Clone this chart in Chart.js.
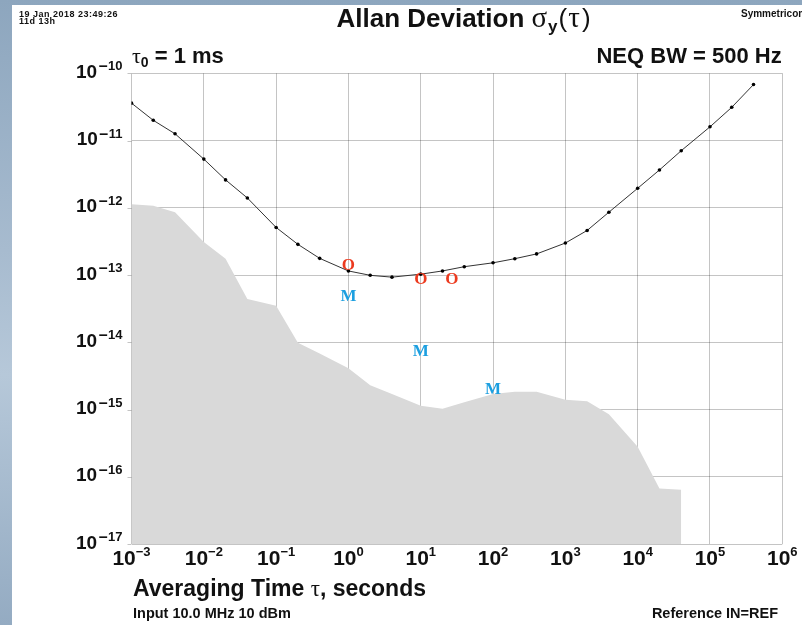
<!DOCTYPE html>
<html>
<head>
<meta charset="utf-8">
<script src="https://cdn.jsdelivr.net/npm/chart.js@4.4.0/dist/chart.umd.min.js"></script>
<style>
  html, body { margin: 0; padding: 0; }
  body {
    width: 802px; height: 625px; overflow: hidden; position: relative;
    background: linear-gradient(180deg, #8da6be 0%, #a7bbcf 40%, #b6c8d9 60%, #94abc2 100%);
  }
  #wrap { position: absolute; left: 12px; top: 5px; width: 790px; height: 620px; background: #fff; }
</style>
</head>
<body>
<div id="wrap"><canvas id="myChart" width="790" height="620"></canvas></div>
<script>
// averaging time (s) and Allan deviation of the measured trace
const tauLine = [1e-3, 2e-3, 4e-3, 1e-2, 2e-2, 4e-2, 1e-1, 2e-1, 4e-1, 1, 2, 4, 10, 20, 40,
  100, 200, 400, 1e3, 2e3, 4e3, 1e4, 2e4, 4e4, 1e5, 2e5, 4e5];
const adevLine = [3.6e-11, 2.0e-11, 1.26e-11, 5.3e-12, 2.6e-12, 1.4e-12, 5.1e-13, 2.86e-13, 1.77e-13,
  1.15e-13, 9.9e-14, 9.3e-14, 1.03e-13, 1.15e-13, 1.33e-13, 1.52e-13, 1.75e-13, 2.06e-13,
  2.99e-13, 4.6e-13, 8.6e-13, 1.95e-12, 3.65e-12, 7.06e-12, 1.6e-11, 3.12e-11, 6.8e-11];

// grey noise floor
const tauFloor = [1e-3, 2e-3, 4e-3, 1e-2, 2e-2, 4e-2, 1e-1, 2e-1, 4e-1, 1, 2, 4, 10, 20, 40,
  100, 200, 400, 1e3, 2e3, 4e3, 1e4, 2e4, 4e4];
const floorVals = [1.13e-12, 1.07e-12, 8.6e-13, 3.1e-13, 1.75e-13, 4.4e-14, 3.5e-14, 9.8e-15, 6.8e-15,
  4.1e-15, 2.3e-15, 1.7e-15, 1.14e-15, 1.03e-15, 1.28e-15, 1.7e-15, 1.84e-15, 1.84e-15,
  1.4e-15, 1.33e-15, 8.5e-16, 2.8e-16, 6.7e-17, 6.4e-17];

// "O" and "M" reference marks
const oTau = [1, 10, 27];
const oVals = [1.36e-13, 8.6e-14, 8.6e-14];
const mTau = [1, 10, 100];
const mVals = [4.8e-14, 7.2e-15, 1.95e-15];

const xTicks = [1e-3, 1e-2, 1e-1, 1, 10, 100, 1e3, 1e4, 1e5, 1e6];
const xTickExp = ["\u22123", "\u22122", "\u22121", "0", "1", "2", "3", "4", "5", "6"];
const yTicks = [1e-17, 1e-16, 1e-15, 1e-14, 1e-13, 1e-12, 1e-11, 1e-10];
const yTickExp = ["17", "16", "15", "14", "13", "12", "11", "10"];

const SANS = "'Liberation Sans', Arial, sans-serif";
const SERIF = "'Liberation Serif', 'Times New Roman', serif";
const GRID = "rgba(0,0,0,0.23)";

function pts(xs, ys) {
  return xs.map((x, i) => ({ x: x, y: ys[i] }));
}

// draw a row of text pieces with their own fonts; ls = letter spacing, gap = space after piece
function drawRuns(ctx, runs, x, y, align) {
  let total = 0;
  runs.forEach((r) => {
    ctx.font = r.f;
    ctx.letterSpacing = "0px";
    r.w = ctx.measureText(r.t).width + (r.ls || 0) * r.t.length + (r.gap || 0);
    total += r.w;
  });
  let cx = align === "center" ? x - total / 2 : align === "right" ? x - total : x;
  ctx.textAlign = "left";
  ctx.textBaseline = "alphabetic";
  runs.forEach((r) => {
    ctx.font = r.f;
    ctx.letterSpacing = (r.ls || 0) + "px";
    ctx.fillText(r.t, cx, y + (r.dy || 0));
    cx += r.w;
  });
  ctx.letterSpacing = "0px";
}

const textPlugin = {
  id: "texts",
  afterDatasetsDraw(chart) {
    const ctx = chart.ctx;
    ctx.save();
    ctx.textAlign = "center";
    ctx.textBaseline = "middle";
    ctx.font = "bold 17px " + SERIF;
    [[2, "O", "#ec3a1f"], [3, "M", "#1c9fe0"]].forEach(([idx, ch, col]) => {
      ctx.fillStyle = col;
      chart.getDatasetMeta(idx).data.forEach((p) => ctx.fillText(ch, p.x, p.y));
    });
    ctx.restore();
  },
  afterDraw(chart) {
    const ctx = chart.ctx;
    const a = chart.chartArea;
    const xs = chart.scales.x, ys = chart.scales.y;
    ctx.save();
    ctx.fillStyle = "#111";

    // y tick labels and small tick marks
    yTicks.forEach((v, i) => {
      const py = ys.getPixelForValue(v);
      drawRuns(ctx, [
        { t: "10", f: "bold 19px " + SANS, gap: 1.5 },
        { t: "\u2013", f: "bold 16px " + SANS, dy: -6.5, gap: 0.5 },
        { t: yTickExp[i], f: "bold 13px " + SANS, dy: -7.5 }
      ], a.left - 9, py + 4.5, "right");
      ctx.strokeStyle = GRID;
      ctx.lineWidth = 1;
      ctx.beginPath();
      ctx.moveTo(a.left - 4, Math.round(py) + 0.5);
      ctx.lineTo(a.left, Math.round(py) + 0.5);
      ctx.stroke();
    });

    // x tick labels
    xTicks.forEach((v, i) => {
      const px = xs.getPixelForValue(v);
      drawRuns(ctx, [
        { t: "10", f: "bold 21px " + SANS },
        { t: xTickExp[i], f: "bold 13px " + SANS, dy: -9 }
      ], px, a.bottom + 21, "center");
    });

    // header
    drawRuns(ctx, [{ t: "19 Jan 2018 23:49:26", f: "bold 9px " + SANS, ls: 0.5 }], 7, 11.5, "left");
    drawRuns(ctx, [{ t: "11d 13h", f: "bold 9px " + SANS, ls: 0.5 }], 7, 19, "left");
    drawRuns(ctx, [{ t: "Symmetricom", f: "bold 10px " + SANS }], 729, 12, "left");
    drawRuns(ctx, [
      { t: "Allan Deviation ", f: "bold 26px " + SANS },
      { t: "\u03c3", f: "29px " + SERIF, gap: 1 },
      { t: "y", f: "bold 17px " + SANS, dy: 5, gap: 1 },
      { t: "(", f: "26px " + SANS, gap: 1 },
      { t: "\u03c4", f: "29px " + SERIF, gap: 2 },
      { t: ")", f: "26px " + SANS }
    ], 451.5, 21.5, "center");
    drawRuns(ctx, [
      { t: "\u03c4", f: "22px " + SERIF },
      { t: "0", f: "bold 14px " + SANS, dy: 4 },
      { t: " = 1 ms", f: "bold 22px " + SANS }
    ], 120, 57.5, "left");
    drawRuns(ctx, [{ t: "NEQ BW = 500 Hz", f: "bold 22px " + SANS }], 769.7, 57.5, "right");

    // footer
    drawRuns(ctx, [
      { t: "Averaging Time ", f: "bold 23px " + SANS },
      { t: "\u03c4", f: "23px " + SERIF },
      { t: ", seconds", f: "bold 23px " + SANS }
    ], 121, 591, "left");
    drawRuns(ctx, [{ t: "Input 10.0 MHz 10 dBm", f: "bold 14.5px " + SANS }], 121, 613, "left");
    drawRuns(ctx, [{ t: "Reference IN=REF", f: "bold 14.5px " + SANS }], 766, 613, "right");
    ctx.restore();
  }
};

const ctx = document.getElementById("myChart");
const myChart = new Chart(ctx, {
  type: "scatter",
  data: {
    datasets: [
      {
        label: "floor",
        data: pts(tauFloor, floorVals),
        showLine: true,
        fill: "start",
        backgroundColor: "#d9d9d9",
        borderColor: "rgba(0,0,0,0)",
        borderWidth: 0,
        pointRadius: 0,
      },
      {
        label: "ADEV",
        data: pts(tauLine, adevLine),
        showLine: true,
        fill: false,
        borderColor: "#333",
        borderWidth: 1,
        pointRadius: 1.8,
        pointBackgroundColor: "#000",
        pointBorderWidth: 0,
      },
      { label: "O", data: pts(oTau, oVals), pointRadius: 0 },
      { label: "M", data: pts(mTau, mVals), pointRadius: 0 },
    ],
  },
  options: {
    responsive: false,
    animation: false,
    devicePixelRatio: 1,
    layout: { padding: { left: 119.5, right: 19.7, top: 68.3, bottom: 81 } },
    plugins: { legend: { display: false }, tooltip: { enabled: false } },
    scales: {
      x: {
        type: "logarithmic",
        min: 1e-3,
        max: 1e6,
        z: 1,
        afterBuildTicks: (s) => { s.ticks = xTicks.map((v) => ({ value: v })); },
        ticks: { display: false },
        grid: { color: GRID, lineWidth: 1, drawTicks: false },
        border: { display: false },
      },
      y: {
        type: "logarithmic",
        min: 1e-17,
        max: 1e-10,
        z: 1,
        afterBuildTicks: (s) => { s.ticks = yTicks.map((v) => ({ value: v })); },
        ticks: { display: false },
        grid: { color: GRID, lineWidth: 1, drawTicks: false },
        border: { display: false },
      },
    },
  },
  plugins: [textPlugin],
});
</script>
</body>
</html>
